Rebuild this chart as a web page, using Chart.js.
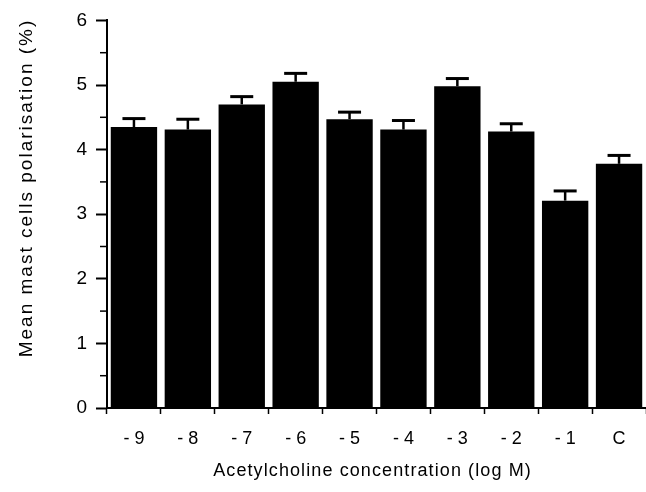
<!DOCTYPE html>
<html>
<head>
<meta charset="utf-8">
<script src="https://cdn.jsdelivr.net/npm/chart.js@4.4.1/dist/chart.umd.min.js"></script>
<style>
  html, body { margin: 0; padding: 0; background: #fff; }
  canvas { display: block; }
</style>
</head>
<body>
<canvas id="chart" width="646" height="492"></canvas>
<script>
// log M concentrations of acetylcholine, C = control
const concentrations = ["- 9", "- 8", "- 7", "- 6", "- 5", "- 4", "- 3", "- 2", "- 1", "C"];
// mean mast cell polarisation (%) and its SEM
const meanPolarisation = [4.35, 4.31, 4.70, 5.05, 4.47, 4.31, 4.98, 4.28, 3.21, 3.78];
const semPolarisation = [0.13, 0.16, 0.12, 0.13, 0.11, 0.14, 0.12, 0.12, 0.15, 0.13];
const yTicks = [0, 1, 2, 3, 4, 5, 6];

const xTitle = "Acetylcholine concentration (log M)";
const yTitle = "Mean mast cells polarisation (%)";

const FONT = "'Liberation Sans', Arial, Helvetica, sans-serif";

// T-shaped error bars above each bar
const errorBars = {
  id: "errorBars",
  afterDatasetsDraw(chart) {
    const ctx = chart.ctx;
    const y = chart.scales.y;
    const bars = chart.getDatasetMeta(0).data;
    ctx.save();
    ctx.strokeStyle = "#000";
    bars.forEach((bar, i) => {
      const top = y.getPixelForValue(meanPolarisation[i] + semPolarisation[i]);
      ctx.lineWidth = 2.5;
      ctx.beginPath();
      ctx.moveTo(bar.x, bar.y);
      ctx.lineTo(bar.x, top);
      ctx.stroke();
      ctx.lineWidth = 3;
      ctx.beginPath();
      ctx.moveTo(bar.x - 11.5, top);
      ctx.lineTo(bar.x + 11.5, top);
      ctx.stroke();
    });
    ctx.restore();
  }
};

// short half-unit ticks on the y axis
const minorTicks = {
  id: "minorTicks",
  afterDraw(chart) {
    const ctx = chart.ctx;
    const y = chart.scales.y;
    const x0 = chart.chartArea.left;
    ctx.save();
    ctx.strokeStyle = "#000";
    ctx.lineWidth = 1.5;
    for (let i = 0; i < yTicks.length - 1; i++) {
      const py = y.getPixelForValue(yTicks[i] + 0.5);
      ctx.beginPath();
      ctx.moveTo(x0 - 7, py);
      ctx.lineTo(x0, py);
      ctx.stroke();
    }
    ctx.restore();
  }
};

// axis titles, letter-spaced like the typeset original
const axisTitles = {
  id: "axisTitles",
  afterDraw(chart) {
    const ctx = chart.ctx;
    const area = chart.chartArea;
    ctx.save();
    ctx.fillStyle = "#000";
    ctx.textAlign = "center";
    ctx.textBaseline = "alphabetic";
    ctx.font = "18px " + FONT;
    ctx.letterSpacing = "1.1px";
    ctx.fillText(xTitle, (area.left + area.right) / 2 - 4, 476);
    ctx.font = "19px " + FONT;
    ctx.letterSpacing = "2px";
    ctx.translate(32, 188);
    ctx.rotate(-Math.PI / 2);
    ctx.fillText(yTitle, 0, 0);
    ctx.restore();
  }
};

new Chart(document.getElementById("chart"), {
  type: "bar",
  data: {
    labels: concentrations,
    datasets: [{
      data: meanPolarisation,
      backgroundColor: "#000",
      borderWidth: 0,
      barPercentage: 0.86,
      categoryPercentage: 1
    }]
  },
  options: {
    responsive: false,
    animation: false,
    layout: { padding: { top: 20, right: 0, bottom: 0, left: 0 } },
    plugins: {
      legend: { display: false },
      tooltip: { enabled: false }
    },
    scales: {
      x: {
        offset: true,
        grid: {
          offset: true,
          drawOnChartArea: false,
          tickLength: 6,
          tickWidth: 1.5,
          tickColor: "#000"
        },
        border: { color: "#000", width: 2 },
        ticks: {
          color: "#000",
          font: { family: FONT, size: 18 },
          padding: 14,
          maxRotation: 0,
          autoSkip: false
        },
        afterFit(scale) { scale.height = 84; }
      },
      y: {
        min: 0,
        max: 6,
        afterBuildTicks(scale) {
          scale.ticks = yTicks.map(v => ({ value: v }));
        },
        grid: {
          drawOnChartArea: false,
          tickLength: 11,
          tickWidth: 2,
          tickColor: "#000"
        },
        border: { color: "#000", width: 2 },
        ticks: {
          color: "#000",
          font: { family: FONT, size: 19 },
          padding: 9
        },
        afterFit(scale) { scale.width = 107; }
      }
    }
  },
  plugins: [errorBars, minorTicks, axisTitles]
});
</script>
</body>
</html>
